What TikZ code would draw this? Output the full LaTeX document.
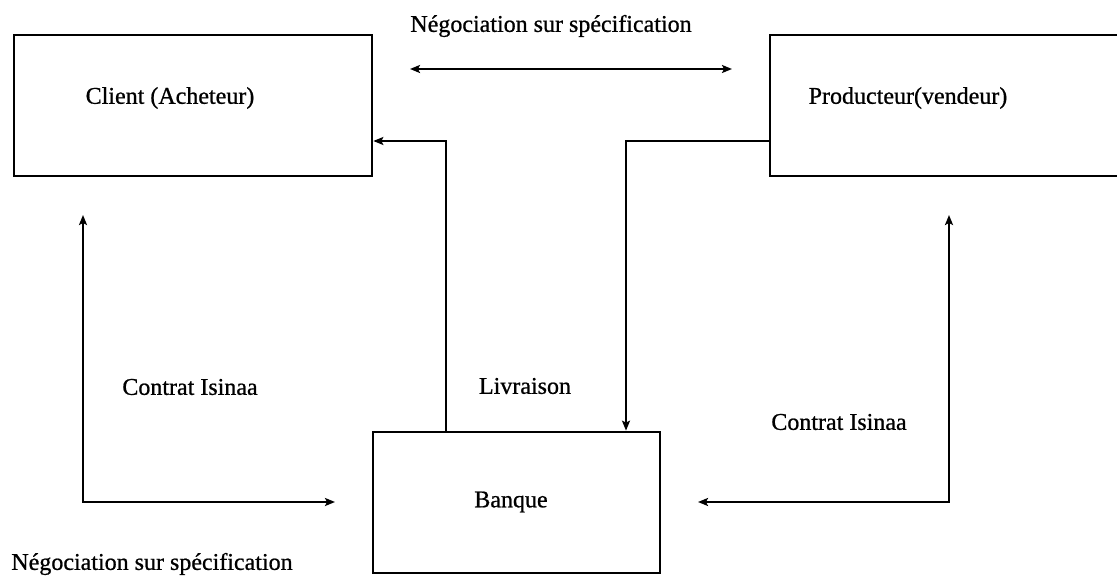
\documentclass[tikz,border=0pt]{standalone}
\usepackage{fontspec}
\setmainfont[FakeBold=0.8]{Liberation Serif}
\usetikzlibrary{arrows.meta}
\begin{document}
\begin{tikzpicture}[x=1pt,y=-1pt,
  box/.style={draw, line width=2.7pt, inner sep=0pt, minimum height=141pt},
  lbl/.style={inner sep=0pt, font=\fontsize{24}{28}\selectfont},
  link/.style={line width=2.7pt, -{Stealth[length=10pt,width=8pt,inset=2pt]}},
  dlink/.style={line width=2.7pt, {Stealth[length=10pt,width=8pt,inset=2pt]}-{Stealth[length=10pt,width=8pt,inset=2pt]}}]
  \useasboundingbox (0,0) rectangle (1117,580);

  % parties
  \node[box, minimum width=358pt] (client) at (193,105.5) {};
  \node[box, minimum width=360pt] (producteur) at (950,105.5) {};
  \node[box, minimum width=287pt] (banque) at (516.5,502.5) {};

  \node[lbl] (clientlbl) at (170,98) {Client (Acheteur)};
  \node[lbl] (producteurlbl) at (908,98) {Producteur(vendeur)};
  \node[lbl] (banquelbl) at (511,502) {Banque};

  % negotiation between buyer and seller
  \coordinate (negL) at (410,69);
  \coordinate (negR) at (732,69);
  \draw[dlink] (negL) -- (negR);
  \node[lbl] (negtop) at (551,26) {Négociation sur spécification};

  % delivery paths through the bank
  \coordinate (livbend) at (446,141);
  \draw[link] (livbend |- banque.north) -- (livbend) -- (livbend -| client.east);
  \coordinate (prodbend) at (626,141);
  \draw[link] (prodbend -| producteur.west) -- (prodbend) -- (prodbend |- banque.north);
  \node[lbl] (livraison) at (525,386) {Livraison};

  % contracts
  \coordinate (ltop) at (83,215);
  \coordinate (lcorner) at (83,502);
  \coordinate (lend) at (335,502);
  \draw[dlink] (ltop) -- (lcorner) -- (lend);
  \node[lbl] (contratL) at (190,387) {Contrat Isinaa};

  \coordinate (rtop) at (949,215);
  \coordinate (rcorner) at (949,502);
  \coordinate (rend) at (698,502);
  \draw[dlink] (rtop) -- (rcorner) -- (rend);
  \node[lbl] (contratR) at (839,422) {Contrat Isinaa};

  \node[lbl] (negbottom) at (152,564) {Négociation sur spécification};
\end{tikzpicture}
\end{document}
